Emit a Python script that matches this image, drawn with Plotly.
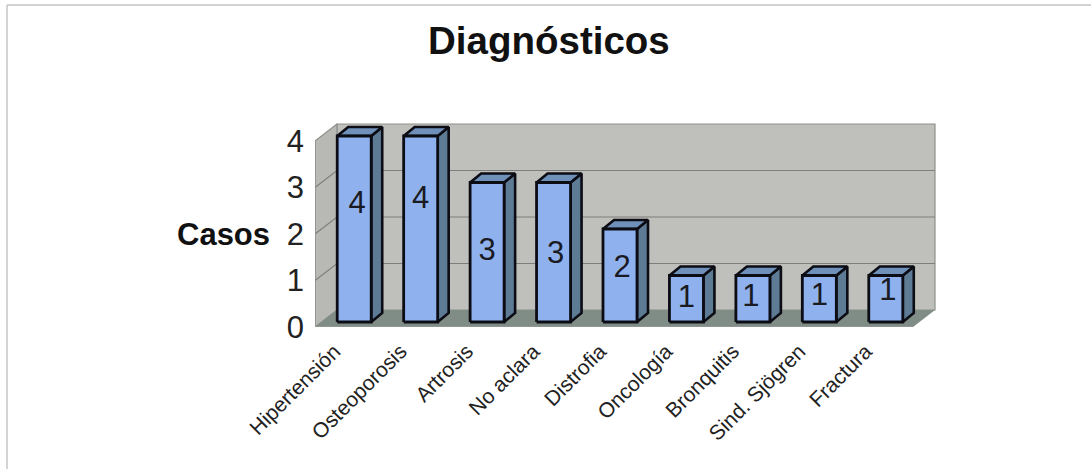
import plotly.graph_objects as go

categories = ["Hipertensión", "Osteoporosis", "Artrosis", "No aclara", "Distrofia",
              "Oncología", "Bronquitis", "Sind. Sjögren", "Fractura"]
casos = [4, 4, 3, 3, 2, 1, 1, 1, 1]
y_ticks = [0, 1, 2, 3, 4]

# layout (pixels of the page)
W, H = 1091, 469
LEFT, RIGHT_FRONT, RIGHT, TOP, BOTTOM = 315, 913, 936, 120, 327
SLOT = (RIGHT_FRONT - LEFT) / len(categories)
UNIT = 46.5
DX = lambda px: px / SLOT
DY = lambda px: px / UNIT

x0 = -0.5
x1 = x0 + (RIGHT - LEFT) / SLOT
y1 = (BOTTOM - TOP) / UNIT
wall_dx, wall_dy = DX(22), DY(17)
bar_dx, bar_dy = DX(6), DY(5)      # front of the bars inside the box
side_dx, side_dy = DX(11), DY(9)   # depth of a bar
half = DX(17)
n = len(categories)
top = max(y_ticks)
# nudge of the value labels from the bar centre, px
label_dx = [3, 0, 0, 2, 2, 0, -2, 0, 2]
label_dy = [24, 29, 0, -3, 6, 0, 1, 2, 7]

fig = go.Figure()

def poly(xs, ys, fill, line="rgba(0,0,0,0)", width=0):
    fig.add_trace(go.Scatter(x=xs + xs[:1], y=ys + ys[:1], mode="lines", fill="toself",
                             fillcolor=fill, line=dict(color=line, width=width),
                             hoverinfo="skip", showlegend=False))

def seg(xs, ys, color, width=1.2):
    fig.add_trace(go.Scatter(x=xs, y=ys, mode="lines", line=dict(color=color, width=width),
                             hoverinfo="skip", showlegend=False))

WALL = "#bfbfbb"
SIDE = "#b8b9b5"
FLOOR = "#808c86"
EDGE = "#8e918e"
GRID = "#7e7f7c"

# back wall, side wall, floor
poly([x0 + wall_dx, x0 + n + wall_dx, x0 + n + wall_dx, x0 + wall_dx],
     [wall_dy, wall_dy, top + wall_dy, top + wall_dy], WALL, EDGE, 1.2)
poly([x0, x0 + wall_dx, x0 + wall_dx, x0], [0, wall_dy, top + wall_dy, top], SIDE, EDGE, 1.2)
poly([x0, x0 + n, x0 + n + wall_dx, x0 + wall_dx], [0, 0, wall_dy, wall_dy], FLOOR)

# gridlines
for t in y_ticks[1:-1]:
    seg([x0, x0 + wall_dx, x0 + n + wall_dx], [t, t + wall_dy, t + wall_dy], GRID)

# axis ticks
for t in y_ticks:
    seg([x0 - DX(3), x0], [t, t], "#777777", 1)
for i in range(n + 1):
    seg([x0 + i, x0 + i], [0, -DY(3)], "#999999", 1)
seg([x0, x0], [0, top], EDGE, 1.2)
seg([x0, x0 + n], [0, 0], "#a0a0a0", 1.2)

# bars
for i, v in enumerate(casos):
    l = i + bar_dx - half
    r = i + bar_dx + half
    b = bar_dy
    t = v + bar_dy
    poly([r, r + side_dx, r + side_dx, r], [b, b + side_dy, t + side_dy, t], "#5e7b96", "#0c0c14", 2.6)
    poly([l, r, r + side_dx, l + side_dx], [t, t, t + side_dy, t + side_dy], "#6f90b8", "#0c0c14", 2.6)
    poly([l, r, r, l], [b, b, t, t], "#8fb2ef", "#0c0c14", 2.8)

# value labels
fig.add_trace(go.Scatter(
    x=[i + bar_dx + DX(label_dx[i]) for i in range(n)],
    y=[v / 2 + bar_dy + DY(label_dy[i]) for i, v in enumerate(casos)],
    mode="text", text=[str(v) for v in casos],
    textfont=dict(family="Liberation Sans", size=31, color="#1a1a22"),
    textposition="middle center", hoverinfo="skip", showlegend=False))

fig.update_layout(
    width=W, height=H, autosize=False,
    margin=dict(l=LEFT, r=W - RIGHT, t=TOP, b=H - BOTTOM),
    paper_bgcolor="white", plot_bgcolor="white",
    showlegend=False,
    font=dict(family="Liberation Sans", color="#1a1a1a"),
    xaxis=dict(range=[x0, x1], tickmode="array", tickvals=[i - DX(14) for i in range(n)], ticktext=categories,
               tickangle=-45, tickfont=dict(size=21, color="#222222"), showgrid=False,
               zeroline=False, showline=False, ticks="", ticklabelstandoff=7),
    yaxis=dict(range=[0, y1], tickmode="array", tickvals=y_ticks, ticktext=[str(t) for t in y_ticks],
               tickfont=dict(size=31, color="#222222"), showgrid=False, zeroline=False, showline=False,
               ticks="", ticklabelstandoff=10),
    annotations=[
        dict(text="<b>Diagnósticos</b>", xref="paper", yref="paper", x=(549 - LEFT) / (RIGHT - LEFT),
             y=1 + (TOP - 40) / (BOTTOM - TOP), xanchor="center", yanchor="middle", showarrow=False,
             font=dict(size=38.5, color="#111111")),
        dict(text="<b>Casos</b>", xref="paper", yref="paper", x=(223 - LEFT) / (RIGHT - LEFT),
             y=(BOTTOM - 234) / (BOTTOM - TOP), xanchor="center", yanchor="middle", showarrow=False,
             font=dict(size=31, color="#111111")),
    ],
    shapes=[
        dict(type="line", xref="paper", yref="paper", x0=(7 - LEFT) / (RIGHT - LEFT), x1=(W - LEFT) / (RIGHT - LEFT),
             y0=1 + (TOP - 5) / (BOTTOM - TOP), y1=1 + (TOP - 5) / (BOTTOM - TOP), line=dict(color="#a8a8a8", width=1.2)),
        dict(type="line", xref="paper", yref="paper", x0=(7 - LEFT) / (RIGHT - LEFT), x1=(7 - LEFT) / (RIGHT - LEFT),
             y0=1 + (TOP - 5) / (BOTTOM - TOP), y1=-(H - BOTTOM) / (BOTTOM - TOP), line=dict(color="#b8b8b8", width=1.2)),
    ],
)

fig.write_html("out.html", config=dict(displayModeBar=False),
               post_script="document.body.style.margin='0';")
